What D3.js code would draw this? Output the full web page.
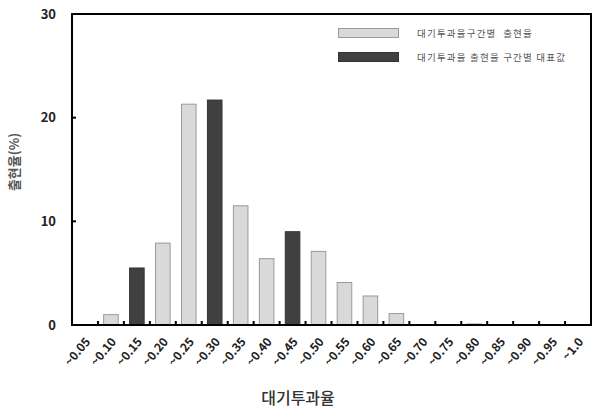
<!DOCTYPE html>
<html><head><meta charset="utf-8">
<script src="https://cdn.jsdelivr.net/npm/d3@7"></script>
<style>body{margin:0;background:#fff}svg{display:block}</style>
</head><body>
<script>
const categories = ["~0.05","~0.10","~0.15","~0.20","~0.25","~0.30","~0.35","~0.40","~0.45","~0.50",
  "~0.55","~0.60","~0.65","~0.70","~0.75","~0.80","~0.85","~0.90","~0.95","~1.0"];
const intervalValues = [null,1.0,null,7.9,21.3,null,11.5,6.4,null,7.1,4.1,2.8,1.1,null,null,0.1,null,null,null,null];
const representativeValues = [null,null,5.5,null,null,21.7,null,null,9.0,null,null,null,null,null,null,null,null,null,null,null];
const yTicks = [0,10,20,30];
const legendLabels = ["대기투과율구간별  출현율","대기투과율 출현율 구간별 대표값"];
const xTitle = "대기투과율";
const yTitle = "출현율(%)";

const W = 593, H = 410;
const m = {left:72, right:2, top:14, bottom:85};
const svg = d3.select("body").append("svg").attr("width",W).attr("height",H);
const x = d3.scaleBand().domain(categories).range([m.left, W-m.right]);
const y = d3.scaleLinear().domain([0,30]).range([H-m.bottom, m.top]);
const kr = "'Noto Sans CJK KR', 'Noto Sans', sans-serif";

// bars
const bars = [];
categories.forEach((c,i)=>{
  if (intervalValues[i]!=null) bars.push({c, v:intervalValues[i], t:0});
  if (representativeValues[i]!=null) bars.push({c, v:representativeValues[i], t:1});
});
svg.append("g").selectAll("rect").data(bars).join("rect")
  .attr("x", d=>x(d.c)+x.bandwidth()*0.2+0.5)
  .attr("width", x.bandwidth()*0.6-1)
  .attr("y", d=>y(d.v))
  .attr("height", d=>y(0)-y(d.v))
  .attr("fill", d=>d.t? "#404040":"#d9d9d9")
  .attr("stroke", d=>d.t? "#333":"#9a9a9a")
  .attr("stroke-width",1);

// frame
svg.append("rect").attr("x",m.left).attr("y",m.top)
  .attr("width",W-m.right-m.left).attr("height",y(0)-m.top)
  .attr("fill","none").attr("stroke","#000").attr("stroke-width",2);

// bottom axis labels
const bx = d3.axisBottom(x).tickSize(0).tickPadding(0);
const gx = svg.append("g").attr("transform",`translate(0,${y(0)})`).call(bx);
gx.select(".domain").remove();
gx.selectAll(".tick line").remove();
gx.selectAll(".tick text")
  .attr("font-family",kr).attr("font-weight","bold").attr("font-size",12).attr("fill","#222")
  .attr("text-anchor","end").attr("dy",0)
  .attr("transform","translate(6,17) rotate(-50)");
// inward ticks at band boundaries
svg.append("g").selectAll("line").data(categories.slice(1)).join("line")
  .attr("x1",d=>x(d)).attr("x2",d=>x(d))
  .attr("y1",y(0)).attr("y2",y(0)-4)
  .attr("stroke","#000").attr("stroke-width",2);

// left axis
const ly = d3.axisLeft(y).tickValues(yTicks).tickSize(0).tickPadding(16);
const gy = svg.append("g").attr("transform",`translate(${m.left},0)`).call(ly);
gy.select(".domain").remove();
gy.selectAll(".tick text").attr("font-family",kr).attr("font-weight","bold").attr("font-size",13).attr("fill","#222");
svg.append("g").selectAll("line").data(yTicks.slice(1,-1)).join("line")
  .attr("x1",m.left).attr("x2",m.left+4).attr("y1",d=>y(d)).attr("y2",d=>y(d))
  .attr("stroke","#000").attr("stroke-width",2);

// titles
svg.append("text").attr("x",298).attr("y",404).attr("text-anchor","middle")
  .attr("font-family",kr).attr("font-size",16).attr("font-weight",500).attr("fill","#333").text(xTitle);
svg.append("text").attr("transform","translate(19,162) rotate(-90)").attr("text-anchor","middle")
  .attr("font-family",kr).attr("font-size",13).attr("font-weight","bold").attr("fill","#555").text(yTitle);

// legend
const lg = svg.append("g");
legendLabels.forEach((t,i)=>{
  lg.append("rect").attr("x",338.5).attr("y",28.5+i*24).attr("width",60).attr("height",9)
    .attr("fill", i? "#404040":"#d9d9d9").attr("stroke", i? "#333":"#9a9a9a");
  lg.append("text").attr("x",417).attr("y",36.5+i*24).attr("font-family",kr)
    .attr("font-size",9.5).attr("letter-spacing",1.2).attr("fill","#555")
    .style("white-space","pre").text(t);
});
</script>
</body></html>
